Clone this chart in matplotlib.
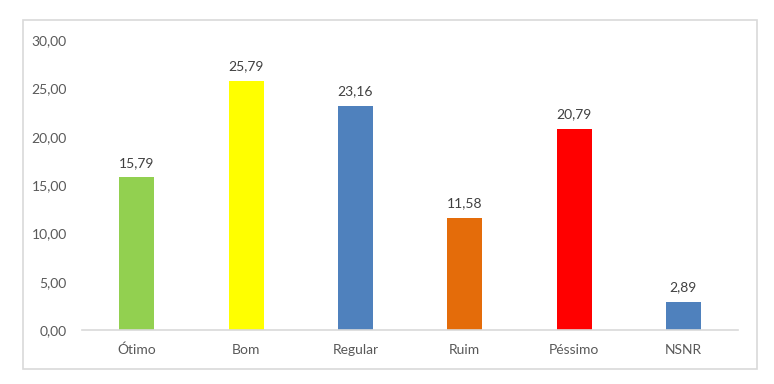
import matplotlib
matplotlib.use("Agg")
import matplotlib.pyplot as plt
from matplotlib.patches import Rectangle

categories = ["Ótimo", "Bom", "Regular", "Ruim", "Péssimo", "NSNR"]
values = [15.79, 25.79, 23.16, 11.58, 20.79, 2.89]
colors = ["#92D050", "#FFFF00", "#4F81BD", "#E46C0A", "#FF0000", "#4F81BD"]
yticks = [0, 5, 10, 15, 20, 25, 30]

plt.rcParams['font.family'] = ['Lato', 'DejaVu Sans']

fig = plt.figure(figsize=(7.74, 3.84), dpi=100)
frame = Rectangle((0.0297, 0.039), 0.948, 0.909, transform=fig.transFigure,
                  facecolor="white", edgecolor="#D9D9D9", linewidth=1.2, zorder=-10)
fig.patches.append(frame)
ax = fig.add_axes([0.106, 0.1406, 0.8475, 0.7552])
ax.set_zorder(1)
ax.set_facecolor("none")
x = range(len(categories))
bars = ax.bar(x, values, width=0.32, color=colors)
for xi, v in zip(x, values):
    ax.text(xi, v + 0.9, f"{v:.2f}".replace(".", ","), ha="center", va="bottom",
            fontsize=10, color="#404040")
ax.set_xlim(-0.5, len(categories) - 0.5)
ax.set_ylim(0, 30)
ax.set_yticks(yticks)
ax.set_yticklabels([f"{t:.2f}".replace(".", ",") for t in yticks])
ax.set_xticks(list(x))
ax.set_xticklabels(categories)
ax.tick_params(axis="both", length=0, labelsize=10, colors="#595959")
ax.tick_params(axis="y", pad=11)
ax.tick_params(axis="x", pad=10)
for s in ["left", "right", "top"]:
    ax.spines[s].set_visible(False)
ax.spines["bottom"].set_color("#D9D9D9")
ax.spines["bottom"].set_linewidth(1.2)
fig.savefig("out.png", dpi=100)
